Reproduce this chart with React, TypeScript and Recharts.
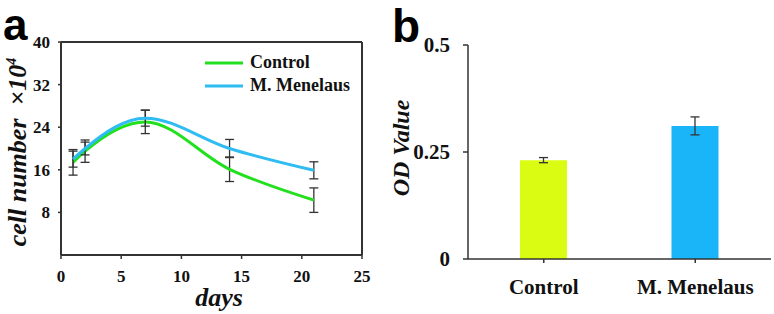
import {
  Bar,
  BarChart,
  Cell,
  ErrorBar,
  Legend,
  Line,
  LineChart,
  ReferenceLine,
  XAxis,
  YAxis,
} from "recharts";

// panel a: cell growth
const days = [1, 2, 7, 14, 21];
const controlCells = [17.4, 19.5, 25.0, 16.1, 10.3];
const controlErr = [2.4, 2.1, 2.2, 2.3, 2.3];
const menelausCells = [18.0, 20.0, 25.7, 20.0, 15.9];
const menelausErr = [1.5, 1.2, 1.5, 1.7, 1.6];
const dayTicks = [0, 5, 10, 15, 20, 25];
const cellTicks = [8, 16, 24, 32, 40];

// panel b: OD value
const groups = ["Control", "M. Menelaus"];
const odValues = [0.231, 0.311];
const odErr = [0.006, 0.021];
const odTicks = [0, 0.25, 0.5];

const GREEN = "#22e01e";
const BLUE = "#2ebcf2";
const BAR_COLORS = ["#d9fc12", "#1ab4f8"];
const AXIS = "#333";
const SERIF = "'Liberation Serif', 'Times New Roman', serif";
const SANS = "'Liberation Sans', Arial, sans-serif";

const growthData = days.map((d, i) => ({
  day: d,
  control: controlCells[i],
  controlErr: controlErr[i],
  menelaus: menelausCells[i],
  menelausErr: menelausErr[i],
}));

const odData = groups.map((g, i) => ({
  name: g,
  od: odValues[i],
  err: odErr[i],
}));

const tickStyle = { fill: "#111", fontFamily: SERIF, fontWeight: 700 };

const renderLegend = () => (
  <div style={{ fontFamily: SERIF, fontWeight: 700, fontSize: 18, color: "#111" }}>
    {[
      { label: "Control", color: GREEN },
      { label: "M. Menelaus", color: BLUE },
    ].map((item) => (
      <div
        key={item.label}
        style={{ display: "flex", alignItems: "center", height: 23 }}
      >
        <svg width={45} height={10}>
          <line x1={0} y1={5} x2={38} y2={5} stroke={item.color} strokeWidth={3} />
        </svg>
        <span>{item.label}</span>
      </div>
    ))}
  </div>
);

export default function App() {
  return (
    <div
      style={{
        position: "absolute",
        left: 0,
        top: 0,
        width: 774,
        height: 314,
        background: "#fff",
      }}
    >
      {/* panel a */}
      <div style={{ position: "absolute", left: 0, top: 0 }}>
        <LineChart
          width={390}
          height={314}
          data={growthData}
          margin={{ top: 42, right: 28, bottom: 0, left: 0 }}
        >
          <XAxis
            dataKey="day"
            type="number"
            domain={[0, 25]}
            ticks={dayTicks}
            height={59}
            tickSize={4}
            tickMargin={11}
            tick={{ ...tickStyle, fontSize: 17 }}
            axisLine={{ stroke: AXIS, strokeWidth: 2 }}
            tickLine={{ stroke: AXIS, strokeWidth: 1.5 }}
          />
          <YAxis
            type="number"
            domain={[0, 40]}
            ticks={cellTicks}
            width={61}
            tickSize={3}
            tickMargin={8}
            tick={{ ...tickStyle, fontSize: 17 }}
            axisLine={{ stroke: AXIS, strokeWidth: 2 }}
            tickLine={{ stroke: AXIS, strokeWidth: 1.5 }}
          />
          <ReferenceLine y={40} stroke={AXIS} strokeWidth={2} />
          <ReferenceLine x={25} stroke={AXIS} strokeWidth={2} />
          <Line
            dataKey="control"
            type="monotone"
            stroke={GREEN}
            strokeWidth={3}
            dot={false}
            isAnimationActive={false}
          >
            <ErrorBar dataKey="controlErr" direction="y" width={4.5} stroke={AXIS} strokeWidth={1.3} />
          </Line>
          <Line
            dataKey="menelaus"
            type="monotone"
            stroke={BLUE}
            strokeWidth={3}
            dot={false}
            isAnimationActive={false}
          >
            <ErrorBar dataKey="menelausErr" direction="y" width={4.5} stroke={AXIS} strokeWidth={1.3} />
          </Line>
          <Legend
            layout="vertical"
            align="center"
            verticalAlign="middle"
            content={renderLegend}
            wrapperStyle={{ left: 205, top: 51, width: 170 }}
          />
        </LineChart>
      </div>

      {/* panel b */}
      <div style={{ position: "absolute", left: 390, top: 0 }}>
        <BarChart
          width={384}
          height={314}
          data={odData}
          margin={{ top: 45, right: 3, bottom: 0, left: 0 }}
        >
          <XAxis
            dataKey="name"
            height={55}
            tickSize={4}
            tickMargin={16}
            tick={{ ...tickStyle, fontSize: 21 }}
            axisLine={{ stroke: AXIS, strokeWidth: 1.5 }}
            tickLine={{ stroke: AXIS, strokeWidth: 1.5 }}
          />
          <YAxis
            type="number"
            domain={[0, 0.5]}
            ticks={odTicks}
            width={78}
            tickSize={5}
            tickMargin={13}
            tick={{ ...tickStyle, fontSize: 21 }}
            axisLine={{ stroke: AXIS, strokeWidth: 1.5 }}
            tickLine={{ stroke: AXIS, strokeWidth: 1.5 }}
          />
          <Bar dataKey="od" barSize={47} isAnimationActive={false}>
            {odData.map((_entry, index) => (
              <Cell key={`cell-${index}`} fill={BAR_COLORS[index % BAR_COLORS.length]} />
            ))}
            <ErrorBar dataKey="err" direction="y" width={4.5} stroke={AXIS} strokeWidth={1.3} />
          </Bar>
        </BarChart>
      </div>

      {/* panel letters and axis titles */}
      <div
        style={{
          position: "absolute",
          left: 3,
          top: 3,
          lineHeight: 1,
          fontFamily: SANS,
          fontWeight: 700,
          fontSize: 44,
          color: "#000",
        }}
      >
        a
      </div>
      <div
        style={{
          position: "absolute",
          left: 392,
          top: 3,
          lineHeight: 1,
          fontFamily: SANS,
          fontWeight: 700,
          fontSize: 46,
          color: "#000",
        }}
      >
        b
      </div>
      <div
        style={{
          position: "absolute",
          left: 18,
          top: 152,
          lineHeight: 1,
          transform: "translate(-50%, -50%) rotate(-90deg)",
          whiteSpace: "nowrap",
          fontFamily: SERIF,
          fontWeight: 700,
          fontStyle: "italic",
          fontSize: 26,
          color: "#111",
        }}
      >
        cell number&nbsp;&nbsp;×10<sup style={{ fontSize: 14 }}>4</sup>
      </div>
      <div
        style={{
          position: "absolute",
          left: 219,
          top: 285,
          lineHeight: 1,
          transform: "translateX(-50%)",
          whiteSpace: "nowrap",
          fontFamily: SERIF,
          fontWeight: 700,
          fontStyle: "italic",
          fontSize: 26,
          color: "#111",
        }}
      >
        days
      </div>
      <div
        style={{
          position: "absolute",
          left: 401,
          top: 148,
          lineHeight: 1,
          transform: "translate(-50%, -50%) rotate(-90deg)",
          whiteSpace: "nowrap",
          fontFamily: SERIF,
          fontWeight: 700,
          fontStyle: "italic",
          fontSize: 24,
          color: "#111",
        }}
      >
        OD Value
      </div>
    </div>
  );
}
